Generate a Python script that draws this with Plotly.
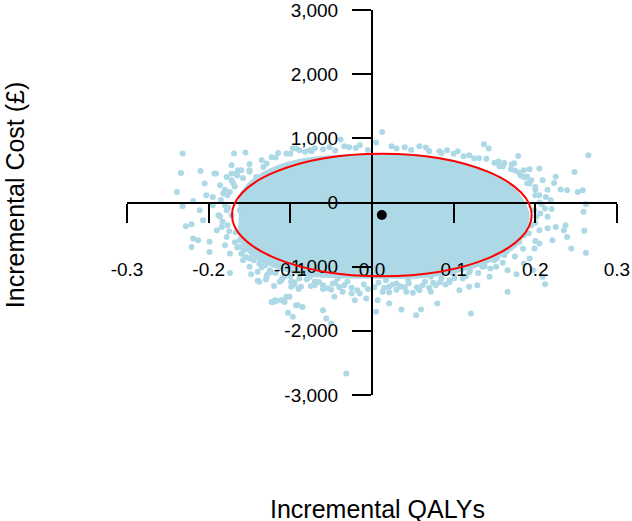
import plotly.graph_objects as go

# ---- data ----
# solid dense core of the simulation cloud (boundary, incremental QALYs / cost)
core_qaly = [-0.163, -0.162, -0.148, -0.122, -0.085, -0.040, 0.012, 0.060, 0.104, 0.140,
             0.168, 0.185, 0.193, 0.188, 0.176, 0.148, 0.110, 0.062, 0.012, -0.040,
             -0.085, -0.122, -0.148, -0.162, -0.164]
core_cost = [-195, 120, 350, 550, 690, 745, 770, 745, 655, 505,
             305, 60, -195, -470, -700, -910, -1080, -1180, -1190, -1180,
             -1140, -1010, -830, -600, -400]

# individual simulations outside the solid core
sim_qaly = [
    -0.232, -0.234, -0.239, -0.210, -0.205, -0.193, -0.169, -0.155, -0.219, -0.232,
    -0.211, -0.207, -0.228, -0.221, -0.219, -0.213, -0.221, -0.199, -0.199, -0.190,
    -0.184, -0.178, -0.180, -0.174, -0.174, -0.162, -0.154, -0.148, -0.140, -0.138,
    -0.125, -0.121, -0.117, -0.105, -0.099, -0.103, -0.097, -0.113, -0.129, -0.172,
    -0.166, -0.178, -0.186, -0.182, -0.174, -0.195, -0.203, -0.160, -0.150, -0.142,
    -0.133, -0.129, -0.115, -0.105, -0.097, -0.162, -0.178, -0.186, -0.195, -0.191,
    -0.172, -0.164, -0.138, -0.111, -0.091, -0.076,
    0.0125, 0.005, -0.0385, -0.028, -0.093, -0.074, 0.066, 0.0825, 0.105,
    0.137, 0.143, 0.179, 0.193, 0.205, 0.186, 0.171, 0.162, 0.156, 0.180,
    0.209, 0.223, 0.231, 0.239, 0.248, 0.252, 0.258, 0.265, 0.262, 0.259,
    0.237, 0.235, 0.260, 0.239, 0.262, 0.244, 0.221, 0.225, 0.215, 0.212,
    0.219, 0.213, 0.205, 0.201, 0.205, 0.205, 0.199, 0.193, 0.186, 0.197,
    0.209, 0.212, 0.177, 0.166, 0.144, 0.129, 0.119, 0.107, 0.166, 0.152, 0.193,
    -0.123, -0.119, -0.107, -0.101, -0.093, -0.085, -0.060, -0.056, -0.050, -0.0315,
    0.005, 0.007, 0.021, 0.036, 0.054, 0.060, 0.080, 0.121, 0.072, 0.050,
    0.042, 0.021, 0.013, -0.007, -0.021, -0.025, -0.036, -0.046, -0.048, -0.060,
    -0.070, -0.087, -0.099, -0.111, -0.089, -0.076, -0.042, 0.030, 0.062, 0.078,
    0.095, 0.111, 0.072, 0.044, 0.017,
    -0.135, -0.123, -0.089, -0.070, -0.052, -0.034, -0.015, 0.024, 0.040, 0.058,
    0.092, 0.119, 0.131,
    -0.172, -0.177, -0.180, -0.172, -0.177, -0.167, -0.162, -0.157, -0.150,
    -0.131, -0.123, -0.107, -0.095, -0.070, -0.054, -0.034, -0.018, 0.003, 0.021,
    0.040, 0.058, 0.083, 0.101, 0.119, 0.138, 0.153, 0.162,
    0.174, 0.186, 0.195, 0.199, 0.200, 0.195, 0.186, 0.174,
    -0.118, -0.100, -0.082, -0.060, -0.045, -0.020, -0.005, 0.030, 0.048, 0.070,
    0.085, 0.100, 0.112, 0.125, 0.150, 0.160,
    -0.150, -0.165, -0.170, -0.180, -0.185, -0.176, -0.188, -0.183, -0.175, -0.168,
    -0.160, -0.145, -0.135,
    -0.118, -0.100, -0.080, -0.065, -0.045, -0.030, -0.010, 0.008, 0.025, 0.045,
    0.065, 0.085, 0.100, 0.120, 0.135, -0.090, -0.050, -0.015, 0.030, 0.070,
    0.090, -0.120, -0.130,
    0.150, 0.165, 0.180, 0.192, 0.200, 0.206, 0.205, 0.200, 0.190, 0.175,
    0.200, 0.215, 0.220, 0.215, 0.225,
    -0.165, -0.158, -0.150, -0.140, -0.128, -0.110, -0.095, -0.075, -0.060, -0.040,
    -0.025, -0.005, 0.015, 0.035, 0.055, 0.075, 0.095, 0.115, 0.130, 0.145,
    0.160, 0.175, 0.185,
    -0.150, -0.158, -0.168, 0.140, 0.155, 0.170, 0.182, 0.190, 0.200, 0.208,
]
sim_cost = [
    763, 461, 165, 492, 296, 452, 763, 779, 25, -58,
    -120, -276, -369, -338, -561, -587, -692, -613, -770, -431,
    -380, -536, -665, -795, -1097, -692, -848, -1117, -1221, -950,
    -1055, -1549, -1533, -1471, -1315, -1720, -1782, -1237, -1159, 581,
    452, 399, 270, 140, 165, 87, 114, 503, 503, 399,
    555, 608, 773, 763, 841, -120, -120, -224, -42, 452,
    452, 503, -1237, -1522, -1600, 815,
    1100, 935, 982, 862, 841, 799, 857, 799, 799,
    908, 841, 726, 519, 530, 399, 592, 617, 566, 467,
    347, 305, 203, 192, 477, 165, 192, 737, -26, -146,
    -354, -432, -442, -536, -785, -717, -587, -380, -224, -93,
    36, 87, 114, -224, -432, -639, -717, -872, -950, -1055,
    -1159, -1273, -1117, -1393, -1159, -1288, -1315, -1366, -1055, -1003, 296,
    -1549, -1522, -1549, -1471, -1600, -1627, -1678, -1807, -1885, -2664,
    -1704, -1522, -1574, -1667, -1756, -1667, -1574, -1729, -1393, -1408,
    -1393, -1315, -1393, -1496, -1522, -1418, -1393, -1471, -1262, -1288,
    -1237, -1315, -1237, -1211, -1184, -1159, -1184, -1262, -1288, -1288,
    -1211, -1184, -1159, -1200, -1211,
    659, 706, 815, 846, 862, 877, 893, 877, 862, 877,
    815, 737, 690,
    347, 114, -42, -198, -354, -463, -587, -743, -868,
    -977, -1086, -1148, -1242, -1288, -1335, -1288, -1366, -1320, -1398,
    -1320, -1366, -1242, -1179, -1086, -992, -868, -821,
    -665, -509, -354, -120, 114, 347, 503, 612,
    700, 760, 790, 830, 810, 850, 820, 840, 820, 800,
    770, 760, 720, 690, 620, 560,
    600, 420, 300, 200, 40, -80, -200, -300, -450, -620,
    -800, -900, -1010,
    -1100, -1150, -1200, -1240, -1260, -1230, -1280, -1250, -1280, -1260,
    -1230, -1180, -1120, -1060, -1000, -1350, -1360, -1420, -1360, -1330,
    -1280, -1300, -1200,
    -900, -760, -620, -480, -320, -170, 0, 200, 400, 500,
    -600, -400, -100, 200, 400,
    -700, -900, -1000, -1080, -1120, -1180, -1280, -1300, -1350, -1320,
    -1330, -1350, -1330, -1310, -1320, -1250, -1240, -1150, -1100, -1030,
    -940, -840, -720,
    480, 380, 250, 680, 640, 520, 420, 300, 240, -30,
]

mean_qaly = [0.012]
mean_cost = [-195]
ellipse_half_qaly = 0.1835   # semi-axis of the confidence ellipse
ellipse_half_cost = 955

x_ticks = [-0.3, -0.2, -0.1, 0.0, 0.1, 0.2, 0.3]
x_tick_text = ["-0.3", "-0.2", "-0.1", "0.0", "0.1", "0.2", "0.3"]
y_ticks = [-3000, -2000, -1000, 0, 1000, 2000, 3000]
y_tick_text = ["-3,000", "-2,000", "-1,000", "0", "1,000", "2,000", "3,000"]

BLUE = "#ADD8E6"
FONT = "Liberation Sans, Arial, sans-serif"

fig = go.Figure()
fig.add_trace(go.Scatter(x=core_qaly, y=core_cost, mode="lines", fill="toself",
                         fillcolor=BLUE, line=dict(width=0, color=BLUE, shape="spline"),
                         hoverinfo="skip", showlegend=False))
fig.add_trace(go.Scatter(x=sim_qaly, y=sim_cost, mode="markers",
                         marker=dict(color=BLUE, size=6, line=dict(width=0)),
                         showlegend=False))
fig.add_trace(go.Scatter(x=mean_qaly, y=mean_cost, mode="markers",
                         marker=dict(color="black", size=10, line=dict(width=0)),
                         showlegend=False))

fig.add_shape(type="circle", xref="x", yref="y", layer="above",
              x0=mean_qaly[0] - ellipse_half_qaly, x1=mean_qaly[0] + ellipse_half_qaly,
              y0=mean_cost[0] - ellipse_half_cost, y1=mean_cost[0] + ellipse_half_cost,
              line=dict(color="#FF0000", width=2))

xr = [-0.30005, 0.30005]
yr = [-3000.5, 3000.5]

fig.update_layout(
    width=632, height=521, autosize=False,
    margin=dict(l=127, r=15, t=10, b=126),
    paper_bgcolor="white", plot_bgcolor="white",
    font=dict(family=FONT, size=19, color="black"),
    xaxis=dict(range=xr, anchor="free", position=0.5, showgrid=False, zeroline=False,
               showline=True, linecolor="black", linewidth=2,
               ticks="outside", ticklen=19, tickwidth=2, tickcolor="black",
               tickvals=x_ticks, ticktext=x_tick_text, ticklabelstandoff=31,
               ticklabeloverflow="allow",
               tickfont=dict(size=19, family=FONT, color="black"), automargin=False),
    yaxis=dict(range=yr, anchor="free", position=0.5, showgrid=False, zeroline=False,
               showline=True, linecolor="black", linewidth=2,
               ticks="outside", ticklen=19, tickwidth=2, tickcolor="black",
               tickvals=y_ticks, ticktext=y_tick_text, ticklabelstandoff=10,
               ticklabeloverflow="allow",
               tickfont=dict(size=19, family=FONT, color="black"), automargin=False),
    annotations=[
        dict(text="Incremental QALYs", xref="paper", yref="paper", x=0.512, y=-0.297,
             xanchor="center", yanchor="middle", showarrow=False,
             font=dict(size=25, family=FONT, color="black")),
        dict(text="Incremental Cost (£)", xref="paper", yref="paper", x=-0.2286, y=0.519,
             xanchor="center", yanchor="middle", textangle=-90, showarrow=False,
             font=dict(size=25, family=FONT, color="black")),
    ],
)

fig.write_html("out.html", config={"displayModeBar": False},
               post_script="document.body.style.margin='0';")
